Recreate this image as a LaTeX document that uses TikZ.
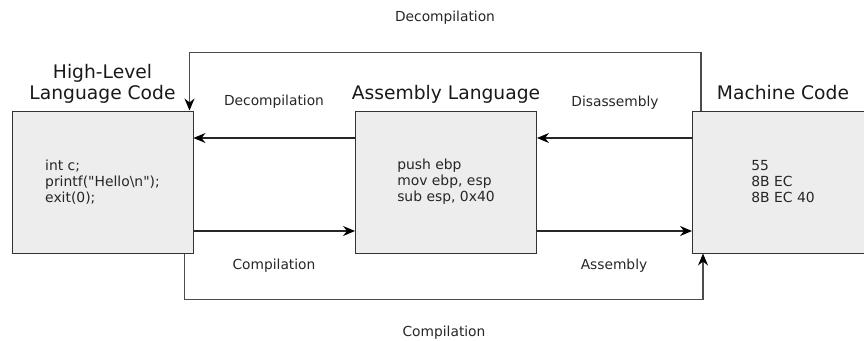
\documentclass[tikz,border=0pt]{standalone}
\usepackage{fontspec}
\setmainfont{DejaVu Sans}
\usetikzlibrary{arrows.meta,positioning}

\tikzset{
  stage/.style={draw=black!80, fill=black!7, line width=1pt, minimum width=181pt, minimum height=142pt,
    align=left, text=black!85, font=\fontsize{13.9}{16}\selectfont},
  heading/.style={inner sep=0pt, align=center, text depth=4.5pt, text=black!90, font=\fontsize{18.7}{21}\selectfont},
  steplabel/.style={text=black!85, font=\fontsize{13.8}{16}\selectfont},
  flow/.style={draw=black!85, line width=1.1pt, -{Stealth[length=12pt,width=10pt,inset=4pt,color=black]}},
  loopflow/.style={flow, draw=black!70}
}

\begin{document}
\begin{tikzpicture}[x=1pt, y=-1pt]
			%%%%% START %%%%%
			\useasboundingbox (0,0) rectangle (864,340);
			
			\node[stage] (hll) at (102.5,182) {int c;\\printf(\textquotedbl Hello\textbackslash n\textquotedbl);\\exit(0);};
			\node[stage] (asm) at (446,182) {push ebp\\mov ebp, esp\\sub esp, 0x40};
			\node[stage] (mc) at (783,182) {55\\8B EC\\8B EC 40};
			
			\node[heading, above=6.5pt of hll] (hlltitle) {High-Level\\Language Code};
			\node[heading, above=6.5pt of asm] (asmtitle) {Assembly Language};
			\node[heading, above=6.5pt of mc] (mctitle) {Machine Code};
			
			\draw[flow] ([yshift=44pt]asm.west) -- ([yshift=44pt]hll.east);
			\draw[flow] ([yshift=44pt]mc.west) -- ([yshift=44pt]asm.east);
			\draw[flow] ([yshift=-49pt]hll.east) -- ([yshift=-49pt]asm.west);
			\draw[flow] ([yshift=-49pt]asm.east) -- ([yshift=-49pt]mc.west);
			
			\draw[loopflow] ([xshift=9pt]mc.north west) -- ++(0,-58) -| ([xshift=-4pt]hll.north east);
			\draw[loopflow] ([xshift=-9pt]hll.south east) -- ++(0,46) -| ([xshift=11pt]mc.south west);
			
			\node[steplabel] (decomp) at (274,102) {Decompilation};
			\node[steplabel] (disasm) at (615,103) {Disassembly};
			\node[steplabel] (comp) at (274,266) {Compilation};
			\node[steplabel] (assem) at (614,266) {Assembly};
			\node[steplabel] (decomptop) at (445,18) {Decompilation};
			\node[steplabel] (comptop) at (444,333) {Compilation};
			
			%%%%% END %%%%%
\end{tikzpicture}
\end{document}
